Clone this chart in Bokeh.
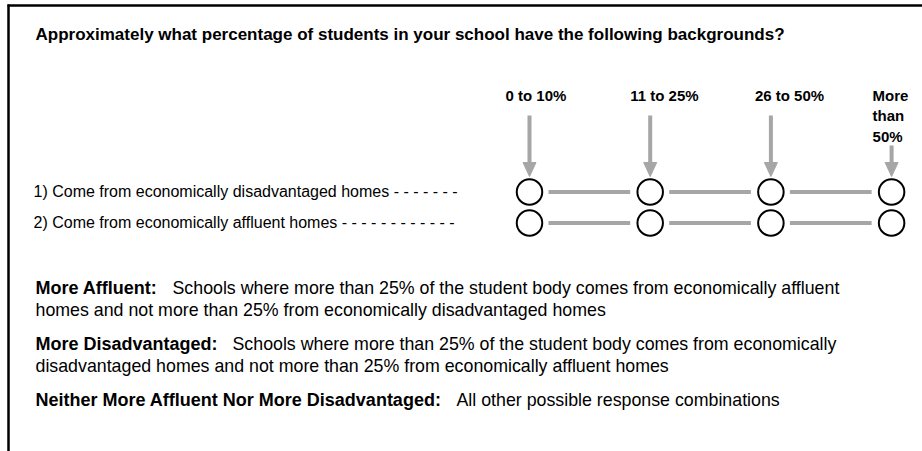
from bokeh.plotting import figure
from bokeh.models import Range1d
from bokeh.core.properties import value
from bokeh.embed import file_html
from bokeh.resources import INLINE

# ---------------- content ----------------
title_text = "Approximately what percentage of students in your school have the following backgrounds?"
option_labels = [["0 to 10%"], ["11 to 25%"], ["26 to 50%"], ["More", "than", "50%"]]
questions = [
    "1) Come from economically disadvantaged homes - - - - - - -",
    "2) Come from economically affluent homes - - - - - - - - - - - -",
]
terms = ["More Affluent:", "More Disadvantaged:", "Neither More Affluent Nor More Disadvantaged:"]
term_texts = [
    ["Schools where more than 25% of the student body comes from economically affluent",
     "homes and not more than 25% from economically disadvantaged homes"],
    ["Schools where more than 25% of the student body comes from economically",
     "disadvantaged homes and not more than 25% from economically affluent homes"],
    ["All other possible response combinations"],
]

# ---------------- layout (screen-pixel coordinate system) ----------------
W, H = 922, 451
FONT = "Liberation Sans"
GRAY = "#a6a6a6"
TY = -6.5  # text vertical correction

col_x0, col_step = 529, 120.7
col_x = [col_x0 + i * col_step for i in range(len(option_labels))]
label_dx = [-24, -20, -16, -19]
row_y0, row_step = 191.5, 31
row_y = [row_y0 + i * row_step for i in range(len(questions))]

p = figure(width=W, height=H, x_range=Range1d(0, W), y_range=Range1d(H, 0),
           output_backend="svg", toolbar_location=None,
           x_axis_location=None, y_axis_location=None, min_border=0)
p.grid.visible = False
p.outline_line_color = None
p.background_fill_color = "white"
p.border_fill_color = "white"

# frame (top and left edges)
p.segment(x0=[7, 8], y0=[5, 4], x1=[W, 8], y1=[5, H], line_color="black", line_width=2.5)

# title
p.text(x=[35], y=[40 + TY], text=[title_text], text_font=value(FONT), text_font_style="bold",
       text_font_size="17px", text_color="black", text_baseline="alphabetic", text_align="left")

# option labels and arrows
lx, ly, lt = [], [], []
sx0, sy0, sy1 = [], [], []
tri_xs, tri_ys = [], []
for i, lines in enumerate(option_labels):
    for j, line in enumerate(lines):
        lx.append(col_x[i] + label_dx[i])
        ly.append(101 + 20.5 * j + TY)
        lt.append(line)
    top = 115 if len(lines) == 1 else 145
    sx0.append(col_x[i]); sy0.append(top); sy1.append(163)
    tri_xs.append([col_x[i] - 6.5, col_x[i] + 6.5, col_x[i]])
    tri_ys.append([162, 162, 176])
p.text(x=lx, y=ly, text=lt, text_font=value(FONT), text_font_style="bold",
       text_font_size="15px", text_color="black", text_baseline="alphabetic", text_align="left")
p.segment(x0=sx0, y0=sy0, x1=sx0, y1=sy1, line_color=GRAY, line_width=4)
p.patches(xs=tri_xs, ys=tri_ys, fill_color=GRAY, line_color=GRAY, line_width=1)

# question rows
p.text(x=[33] * len(questions), y=[y + 5.5 + TY for y in row_y], text=questions, text_font=value(FONT),
       text_font_size="16px", text_color="black", text_baseline="alphabetic", text_align="left")
cx0, cx1, cy = [], [], []
px, py = [], []
for y in row_y:
    for i in range(len(col_x)):
        px.append(col_x[i]); py.append(y)
        if i < len(col_x) - 1:
            cx0.append(col_x[i] + 19); cx1.append(col_x[i + 1] - 20); cy.append(y)
p.segment(x0=cx0, y0=cy, x1=cx1, y1=cy, line_color=GRAY, line_width=4)
p.scatter(x=px, y=py, marker="circle", size=25.5, fill_color="white", line_color="black", line_width=2)

# definitions
term_y = [294, 350, 406]
text_x1 = [172, 232, 456]
line_gap = 22
p.text(x=[35] * len(terms), y=[y + TY for y in term_y], text=terms, text_font=value(FONT),
       text_font_style="bold", text_font_size="18px", text_color="black",
       text_baseline="alphabetic", text_align="left")
dx, dy, dt = [], [], []
for k, lines in enumerate(term_texts):
    for j, line in enumerate(lines):
        dx.append(text_x1[k] if j == 0 else 35)
        dy.append(term_y[k] + j * line_gap + TY)
        dt.append(line)
p.text(x=dx, y=dy, text=dt, text_font=value(FONT), text_font_size="17.8px", text_color="black",
       text_baseline="alphabetic", text_align="left")

open("out.html", "w").write(file_html(p, INLINE))
